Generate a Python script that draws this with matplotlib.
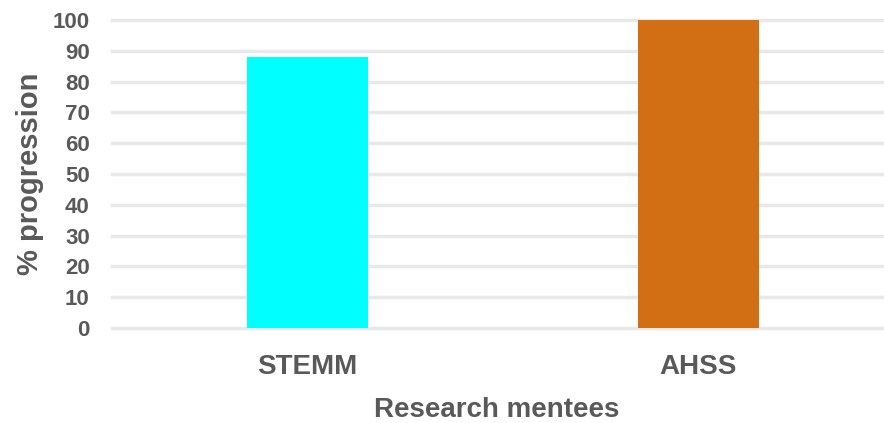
import matplotlib.pyplot as plt

# data
categories = ["STEMM", "AHSS"]
progression = [88, 100]
bar_colors = ["#00FFFF", "#D26E14"]
yticks = list(range(0, 101, 10))

plt.rcParams["font.family"] = ["Liberation Sans", "DejaVu Sans"]
plt.rcParams["font.weight"] = "bold"
text_color = "#595959"

fig = plt.figure(figsize=(8.84, 4.23), dpi=100)
ax = fig.add_axes([112 / 884, 95 / 423, 770 / 884, 308 / 423])

x = list(range(len(categories)))
ax.bar(x, progression, width=0.31, color=bar_colors, zorder=3)

ax.set_ylim(0, 100)
ax.set_xlim(-0.5, 1.47)
ax.set_yticks(yticks)
ax.set_xticks(x)
ax.set_xticklabels(categories)

# light horizontal grid, no frame
ax.grid(axis="y", color="#E8E8E8", linewidth=2.5, zorder=0)
ax.set_axisbelow(True)
for s in ax.spines.values():
    s.set_visible(False)
ax.tick_params(axis="both", length=0, colors=text_color)
ax.tick_params(axis="y", labelsize=16, pad=16)
ax.tick_params(axis="x", labelsize=20, pad=19)
for lbl in ax.get_yticklabels() + ax.get_xticklabels():
    lbl.set_fontweight("bold")
for g in ax.get_ygridlines():
    g.set_clip_on(False)

ax.set_xlabel("Research mentees", fontsize=20, fontweight="bold",
              color=text_color, labelpad=12)
ax.set_ylabel("% progression", fontsize=21, fontweight="bold",
              color=text_color, labelpad=6)

fig.savefig("out.png", dpi=100)
